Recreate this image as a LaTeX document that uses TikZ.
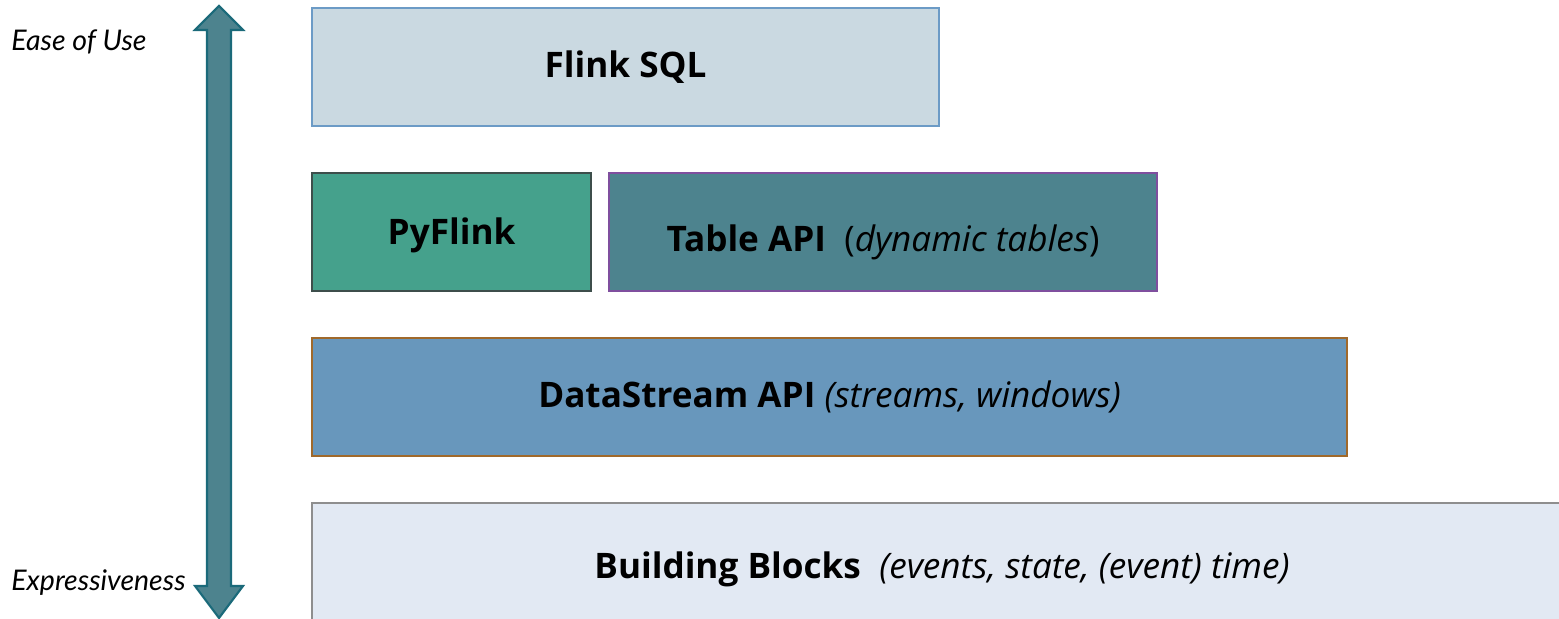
\documentclass[tikz,border=0pt]{standalone}
\usepackage{fontspec}
\setmainfont{Open Sans}
\newfontfamily\sidefont{Lato}
\usetikzlibrary{positioning}
\definecolor{sqlfill}{HTML}{CAD9E1}
\definecolor{sqlline}{HTML}{6C9BC6}
\definecolor{pyfill}{HTML}{45A18C}
\definecolor{pyline}{HTML}{3D4E4B}
\definecolor{tablefill}{HTML}{4D838E}
\definecolor{tableline}{HTML}{7F4F9E}
\definecolor{streamfill}{HTML}{6897BC}
\definecolor{streamline}{HTML}{A0692B}
\definecolor{blockfill}{HTML}{E2E9F3}
\definecolor{blockline}{HTML}{8E8E8E}
\definecolor{arrowline}{HTML}{1B6A7A}

\begin{document}
\begin{tikzpicture}[
      layer/.style={anchor=north west, minimum height=1.18cm, line width=0.6pt,
                    inner sep=0pt, font=\fontsize{10.2}{12}\selectfont},
      side/.style={anchor=west, font=\sidefont\itshape\fontsize{8.1}{10}\selectfont}
    ]
      \useasboundingbox (0,0) rectangle (15.59,-6.19);

      \node[layer, fill=sqlfill, draw=sqlline, minimum width=6.27cm] (sql) at (3.11,-0.07) {};
      \node at (sql.center) {\textbf{Flink SQL}};
      \node[layer, fill=pyfill, draw=pyline, minimum width=2.79cm] (py) at (3.11,-1.72) {};
      \node at ([yshift=-1pt]py.center) {\textbf{PyFlink}};
      \node[layer, fill=tablefill, draw=tableline, minimum width=5.48cm] (table) at (6.08,-1.72) {};
      \node at ([yshift=-3pt]table.center) {\textbf{Table API}~~(\textit{dynamic tables})};
      \node[layer, fill=streamfill, draw=streamline, minimum width=10.35cm] (stream) at (3.11,-3.37) {};
      \node at (stream.center) {\textbf{DataStream API} \textit{(streams, windows)}};
      \node[layer, fill=blockfill, draw=blockline, minimum width=12.6cm, minimum height=1.3cm] (blocks) at (3.11,-5.02) {};
      \node at (9.42,-5.69) {\textbf{Building Blocks}~~\textit{(events, state, (event) time)}};

      % Ease of use <-> expressiveness
      \coordinate (top) at (2.19,-0.06);
      \coordinate (bot) at (2.19,-6.18);
      \draw[fill=tablefill, draw=arrowline, line width=0.6pt]
        (top) -- ++(0.24,-0.24) -- ++(-0.12,0) -- ++(0,-5.56) -- ++(0.12,0) -- (bot)
        -- ++(-0.24,0.32) -- ++(0.12,0) -- ++(0,5.56) -- ++(-0.12,0) -- cycle;

      \node[side] (ease) at (-0.01,-0.42) {Ease of Use};
      \node[side] (expr) at (-0.01,-5.83) {Expressiveness};
    \end{tikzpicture}
\end{document}
